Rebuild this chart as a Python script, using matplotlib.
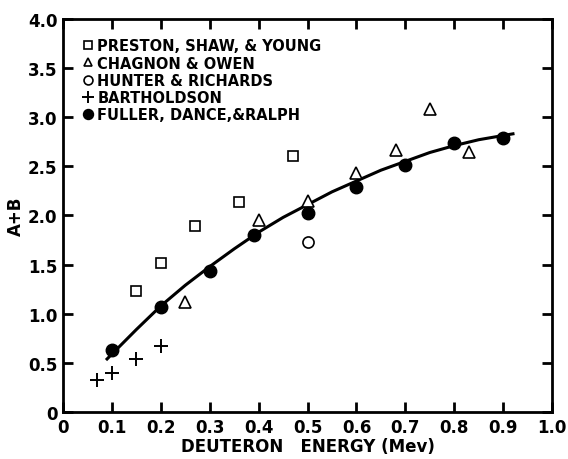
import numpy as np
import matplotlib.pyplot as plt

# Preston, Shaw & Young (squares)
psy_x = [0.15, 0.20, 0.27, 0.36, 0.47]
psy_y = [1.23, 1.52, 1.89, 2.14, 2.60]

# Chagnon & Owen (triangles)
co_x = [0.25, 0.40, 0.50, 0.60, 0.68, 0.75, 0.83]
co_y = [1.12, 1.95, 2.15, 2.43, 2.67, 3.08, 2.65]

# Hunter & Richards (open circle)
hr_x = [0.50]
hr_y = [1.73]

# Bartholdson (crosses)
bh_x = [0.07, 0.10, 0.15, 0.20]
bh_y = [0.33, 0.40, 0.54, 0.67]

# Fuller, Dance & Ralph (filled circles)
fdr_x = [0.10, 0.20, 0.30, 0.39, 0.50, 0.60, 0.70, 0.80, 0.90]
fdr_y = [0.63, 1.07, 1.43, 1.80, 2.02, 2.29, 2.51, 2.74, 2.79]

# fitted curve
curve_x = [0.09, 0.15, 0.20, 0.25, 0.30, 0.35, 0.40, 0.45, 0.50, 0.55, 0.60,
           0.65, 0.70, 0.75, 0.80, 0.85, 0.92]
curve_y = [0.54, 0.84, 1.08, 1.29, 1.48, 1.66, 1.83, 1.98, 2.11, 2.24, 2.35,
           2.46, 2.55, 2.64, 2.71, 2.77, 2.83]

plt.rcParams['font.family'] = 'DejaVu Sans'
plt.rcParams['font.weight'] = 'bold'

fig = plt.figure(figsize=(5.68, 4.6), dpi=100)
ax = fig.add_axes([0.111, 0.102, 0.861, 0.855])

ax.plot(curve_x, curve_y, color='black', lw=2.2)
ax.plot(psy_x, psy_y, 's', mfc='white', mec='black', ms=7, mew=1.2, ls='none',
        label='PRESTON, SHAW, & YOUNG')
ax.plot(co_x, co_y, '^', mfc='white', mec='black', ms=8, mew=1.2, ls='none',
        label='CHAGNON & OWEN')
ax.plot(hr_x, hr_y, 'o', mfc='white', mec='black', ms=8, mew=1.2, ls='none',
        label='HUNTER & RICHARDS')
ax.plot(bh_x, bh_y, '+', color='black', ms=10, mew=1.4, ls='none',
        label='BARTHOLDSON')
ax.plot(fdr_x, fdr_y, 'o', color='black', ms=9, ls='none',
        label='FULLER, DANCE,&RALPH')

ax.set_xlim(0, 1.0)
ax.set_ylim(0, 4.0)
ax.set_xticks(np.arange(0, 1.01, 0.1))
ax.set_xticklabels(['0', '0.1', '0.2', '0.3', '0.4', '0.5', '0.6', '0.7',
                    '0.8', '0.9', '1.0'])
ax.set_yticks(np.arange(0, 4.01, 0.5))
ax.set_yticklabels(['0', '0.5', '1.0', '1.5', '2.0', '2.5', '3.0', '3.5', '4.0'])
ax.tick_params(direction='in', length=7, width=2, top=True, right=True,
               labelsize=12, pad=4)
for s in ax.spines.values():
    s.set_linewidth(2)

ax.set_xlabel('DEUTERON   ENERGY (Mev)', fontsize=12, fontweight='bold', labelpad=1)
ax.set_ylabel('A+B', fontsize=12, fontweight='bold', labelpad=2)

ax.legend(loc='upper left', bbox_to_anchor=(0.025, 0.965), frameon=False,
          handletextpad=0.1, handlelength=1.0, labelspacing=0.15,
          borderaxespad=0, markerscale=0.8,
          prop={'weight': 'bold', 'size': 10.5})

fig.savefig('out.png', dpi=100)
